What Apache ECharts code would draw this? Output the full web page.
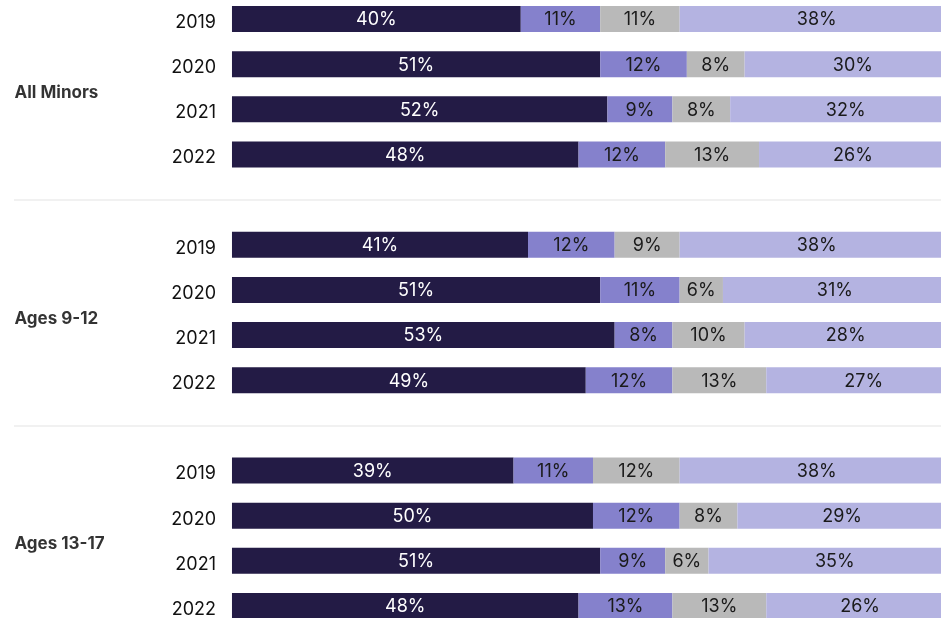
<!DOCTYPE html>
<html>
<head>
<meta charset="utf-8">
<script src="https://cdn.jsdelivr.net/npm/echarts@6/dist/echarts.min.js"></script>
<style>
html,body{margin:0;padding:0;background:#fff;overflow:hidden;width:941px;height:618px;}
#chart{position:absolute;left:0;top:-4px;width:960px;height:640px;}
</style>
</head>
<body>
<div id="chart"></div>
<script>
// ---- Data ----
const years = ['2019', '2020', '2021', '2022'];
const groups = ['All Minors', 'Ages 9-12', 'Ages 13-17'];

const allMinorsS1 = [40, 51, 52, 48];
const allMinorsS2 = [11, 12, 9, 12];
const allMinorsS3 = [11, 8, 8, 13];
const allMinorsS4 = [38, 30, 32, 26];

const ages9to12S1 = [41, 51, 53, 49];
const ages9to12S2 = [12, 11, 8, 12];
const ages9to12S3 = [9, 6, 10, 13];
const ages9to12S4 = [38, 31, 28, 27];

const ages13to17S1 = [39, 50, 51, 48];
const ages13to17S2 = [11, 12, 9, 13];
const ages13to17S3 = [12, 8, 6, 13];
const ages13to17S4 = [38, 29, 35, 26];

// ---- Build ----
const groupSeries = [
  [allMinorsS1, allMinorsS2, allMinorsS3, allMinorsS4],
  [ages9to12S1, ages9to12S2, ages9to12S3, ages9to12S4],
  [ages13to17S1, ages13to17S2, ages13to17S3, ages13to17S4]
];
const colors = ['#231b45', '#8581cc', '#b9b9b9', '#b4b3e1'];
const labelColors = ['#ffffff', '#1a1a1a', '#1a1a1a', '#1a1a1a'];

const categories = [];
const gapNames = [];
groups.forEach((g, gi) => {
  years.forEach(y => categories.push(g + '|' + y));
  if (gi < groups.length - 1) {
    const gn = 'gap' + gi;
    categories.push(gn);
    gapNames.push(gn);
  }
});

const seriesData = [0, 1, 2, 3].map(si => {
  const arr = [];
  groupSeries.forEach((gs, gi) => {
    gs[si].forEach(v => arr.push(v));
    if (gi < groupSeries.length - 1) arr.push('-');
  });
  return arr;
});

const xMin = -30.19;
const FONT = 'Inter, "Noto Sans", sans-serif';

const series = seriesData.map((d, si) => {
  const s = {
    type: 'bar',
    name: 'Segment ' + (si + 1),
    stack: 'total',
    data: d,
    barWidth: 26,
    clip: false,
    itemStyle: { color: colors[si] },
    label: {
      show: true,
      position: 'inside',
      formatter: p => p.value + '%',
      color: labelColors[si],
      fontFamily: FONT,
      fontSize: 18,
      offset: [0, 1]
    },
    silent: true
  };
  if (si === 0) {
    s.markLine = {
      silent: true,
      symbol: 'none',
      label: { show: false },
      lineStyle: { color: '#ececec', width: 1.5, type: 'solid' },
      data: gapNames.map(n => ({ yAxis: n }))
    };
  }
  return s;
});

// group labels
series.push({
  type: 'scatter',
  xAxisIndex: 0,
  yAxisIndex: 1,
  symbolSize: 1,
  itemStyle: { color: 'rgba(0,0,0,0)' },
  silent: true,
  data: groups.map((g, gi) => ({ value: [xMin, gi * 5 + 1.5], name: g })),
  label: {
    show: true,
    position: 'right',
    distance: 0,
    formatter: p => p.name,
    color: '#000000',
    fontFamily: FONT,
    fontWeight: 'bold',
    fontSize: 17,
    offset: [0, 6]
  }
});

const chart = echarts.init(document.getElementById('chart'), null, { renderer: 'canvas' });
chart.setOption({
  animation: false,
  backgroundColor: '#ffffff',
  grid: { left: 14, right: 6, top: 0.4, bottom: 7.4, containLabel: false },
  xAxis: {
    type: 'value',
    min: xMin,
    max: 100,
    show: false
  },
  yAxis: [
    {
      type: 'category',
      data: categories,
      inverse: true,
      axisLine: { show: false },
      axisTick: { show: false },
      splitLine: { show: false },
      axisLabel: {
        inside: true,
        align: 'right',
        margin: 202,
        color: '#111111',
        fontFamily: FONT,
        fontSize: 18,
        formatter: v => (v.indexOf('|') >= 0 ? '{y|' + v.split('|')[1] + '}' : ''),
        rich: {
          y: {
            color: '#111111',
            fontFamily: FONT,
            fontSize: 18,
            padding: [7, 0, 0, 0]
          }
        }
      }
    },
    {
      type: 'value',
      min: -0.5,
      max: 13.5,
      inverse: true,
      show: false
    }
  ],
  series: series
});
</script>
</body>
</html>
